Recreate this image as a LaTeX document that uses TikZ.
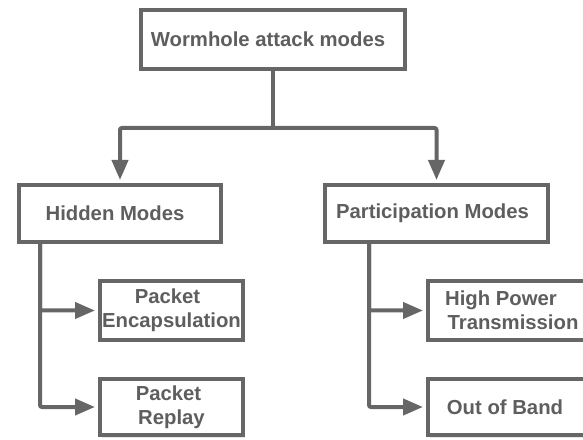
\documentclass[tikz,border=0pt]{standalone}
\usepackage{fontspec}
\setmainfont{Liberation Sans}
\usetikzlibrary{arrows.meta,shadows}
\definecolor{linegray}{HTML}{666666}
\definecolor{textgray}{HTML}{5E5E5E}
\tikzset{
  box/.style={draw=linegray, line width=4pt, fill=white, inner sep=0pt,
    font=\bfseries\fontsize{20.3}{24}\selectfont, text=textgray, align=center,
    drop shadow={opacity=0.18, shadow xshift=1.5pt, shadow yshift=-2.5pt}},
  conn/.style={draw=linegray, line width=4pt, rounded corners=2pt},
  arr/.style={conn, shorten >=3pt, -{Triangle[length=20pt,width=16pt]}}
}
\begin{document}
\begin{tikzpicture}[x=1pt,y=1pt]
\useasboundingbox (0,0) rectangle (583,439);
\node[box, minimum width=264pt, minimum height=59pt] (top) at (273,399.5) {Wormhole attack modes\hspace*{10pt}};
\node[box, minimum width=202pt, minimum height=57pt] (hidden) at (120,225.5) {\hspace*{-10pt}Hidden Modes};
\node[box, minimum width=223pt, minimum height=57pt] (part) at (436.5,225.5) {Participation Modes\hspace*{8pt}};
\node[box, minimum width=143pt, minimum height=59pt] (encap) at (171.5,128.5) {\hspace*{-8pt}Packet\\Encapsulation};
\node[box, minimum width=143pt, minimum height=56pt] (replay) at (171.5,32) {\hspace*{-6pt}Packet\\Replay};
\node[box, minimum width=170pt, minimum height=59pt] (high) at (513,128.5) {High Power\hspace*{24pt}\\Transmission};
\node[box, minimum width=170pt, minimum height=56pt] (oob) at (513,32) {Out of Band\hspace*{16pt}};
\coordinate (split) at (273,311);
\coordinate (hx) at (40,0);
\coordinate (px) at (369,0);
\draw[conn] (top.south) -- (split);
\draw[arr] (split) -| (hidden.north);
\draw[arr] (split) -| (part.north);
\draw[arr] (hx |- hidden.south) |- (encap.west);
\draw[arr] (hx |- hidden.south) |- (replay.west);
\draw[arr] (px |- part.south) |- (high.west);
\draw[arr] (px |- part.south) |- (oob.west);
\end{tikzpicture}
\end{document}
